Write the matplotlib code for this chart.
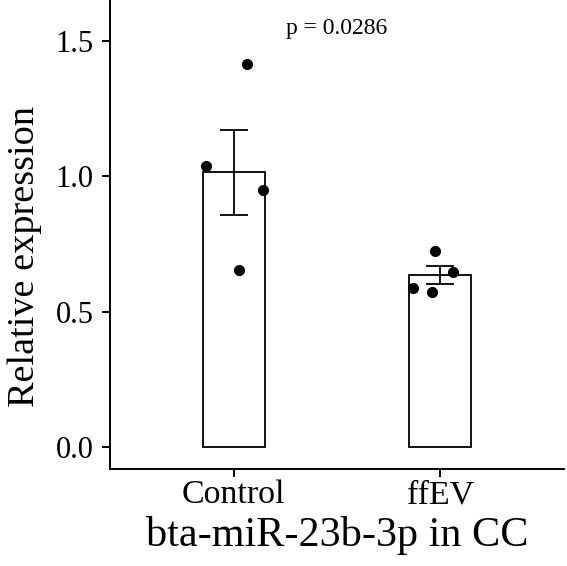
import matplotlib
matplotlib.use("Agg")
import matplotlib.pyplot as plt
import numpy as np

categories = ["Control", "ffEV"]
means = [1.015, 0.636]
err_low = [0.858, 0.601]
err_high = [1.171, 0.670]
points_control = [1.414, 1.040, 0.949, 0.655]
points_ffev = [0.725, 0.648, 0.586, 0.574]
jitter_control = [0.062, -0.134, 0.142, 0.026]
jitter_ffev = [-0.024, 0.062, -0.130, -0.040]
yticks = [0.0, 0.5, 1.0, 1.5]
p_text = "p = 0.0286"
xlabel = "bta-miR-23b-3p in CC"
ylabel = "Relative expression"

plt.rcParams['font.family'] = ['Liberation Serif', 'DejaVu Serif']

fig = plt.figure(figsize=(5.67, 5.66), dpi=100)
ax = fig.add_axes([110/567, 1 - 469/566, (564-110)/567, 469/566])

x = np.arange(1, len(categories) + 1)
ax.bar(x, means, width=0.3, facecolor="white", edgecolor="black", linewidth=1.3, zorder=1)
lower = np.array(means) - np.array(err_low)
upper = np.array(err_high) - np.array(means)
ax.errorbar(x, means, yerr=[lower, upper], fmt="none", ecolor="black",
            elinewidth=1.3, capsize=10, capthick=1.3, zorder=2)

for xi, pts, jit in [(1, points_control, jitter_control), (2, points_ffev, jitter_ffev)]:
    ax.plot(xi + np.array(jit), pts, "o", color="black", markersize=7, zorder=3)

ax.set_xlim(0.4, 2.6)
ax.set_ylim(-0.0813, 1.652)
ax.set_xticks(x)
ax.set_xticklabels(categories, fontsize=24.5)
ax.set_yticks(yticks)
ax.set_yticklabels([f"{v:.1f}" for v in yticks], fontsize=22)
ax.tick_params(axis="both", length=5.8, width=1.4, color="black", labelcolor="black")
ax.tick_params(axis="y", pad=6)
ax.tick_params(axis="x", pad=2)

for s in ["top", "right"]:
    ax.spines[s].set_visible(False)
for s in ["left", "bottom"]:
    ax.spines[s].set_linewidth(1.4)

ax.set_xlabel(xlabel, fontsize=30.4, labelpad=4)
ax.set_ylabel(ylabel, fontsize=27.5)
ax.yaxis.set_label_coords(-0.150, 0.454)

ax.text(1.5, 1.526, p_text, ha="center", va="baseline", fontsize=17)

fig.savefig("out.png", dpi=100)
